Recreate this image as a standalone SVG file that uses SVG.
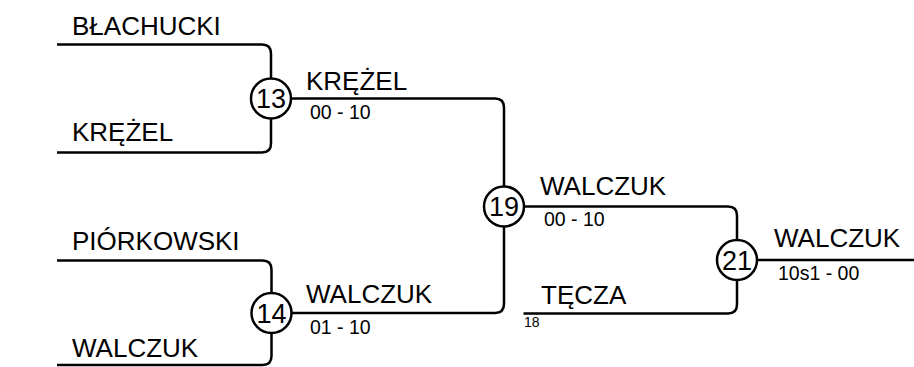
<svg xmlns="http://www.w3.org/2000/svg" width="914" height="367" viewBox="0 0 914 367">
<style>
.ln{fill:none;stroke:#000;stroke-width:2.5;stroke-linejoin:round}
.nm{font-family:"Liberation Sans",Arial,sans-serif;font-size:26px;fill:#000}
.sc{font-family:"Liberation Sans",Arial,sans-serif;font-size:19.5px;fill:#000}
.sm{font-family:"Liberation Sans",Arial,sans-serif;font-size:14px;fill:#000}
.c{fill:#fff;stroke:#000;stroke-width:2.5}
.num{font-family:"Liberation Sans",Arial,sans-serif;font-size:27px;fill:#000;text-anchor:middle}
</style>
<rect width="914" height="367" fill="#fff"/>
<g id="connectors">
<path class="ln" d="M57,44.5 H262 Q271,44.5 271,53.5 V78"/>
<path class="ln" d="M57,152.5 H262 Q271,152.5 271,143.5 V119"/>
<path class="ln" d="M57,260.5 H262.5 Q271.5,260.5 271.5,269.5 V293"/>
<path class="ln" d="M57,365 H262.5 Q271.5,365 271.5,356 V333"/>
<path class="ln" d="M291,98.5 H495 Q504,98.5 504,107.5 V186"/>
<path class="ln" d="M291.5,313 H495 Q504,313 504,304 V227"/>
<path class="ln" d="M524,206.5 H728 Q737,206.5 737,215.5 V240"/>
<path class="ln" d="M523.5,313.5 H728 Q737,313.5 737,304.5 V280"/>
<path class="ln" d="M757,260 H914"/>
</g>
<g id="entrants">
<text class="nm" x="72" y="35">BŁACHUCKI</text>
<text class="nm" x="72" y="141">KRĘŻEL</text>
<text class="nm" x="72" y="250">PIÓRKOWSKI</text>
<text class="nm" x="72" y="357">WALCZUK</text>
</g>
<g id="node13">
<circle class="c" cx="271" cy="98.5" r="20"/>
<text class="num" x="271" y="108">13</text>
<text class="nm" x="306" y="89.5">KRĘŻEL</text>
<text class="sc" x="310" y="119">00 - 10</text>
</g>
<g id="node14">
<circle class="c" cx="271.5" cy="313" r="20"/>
<text class="num" x="271.5" y="322.5">14</text>
<text class="nm" x="306" y="302.5">WALCZUK</text>
<text class="sc" x="310" y="334">01 - 10</text>
</g>
<g id="node19">
<circle class="c" cx="504" cy="206.5" r="20"/>
<text class="num" x="504" y="216">19</text>
<text class="nm" x="540" y="195">WALCZUK</text>
<text class="sc" x="544" y="226">00 - 10</text>
</g>
<g id="entrant-tecza">
<text class="nm" x="541" y="304">TĘCZA</text>
<text class="sm" x="524" y="327">18</text>
</g>
<g id="node21">
<circle class="c" cx="737" cy="260" r="20"/>
<text class="num" x="737" y="269.5">21</text>
<text class="nm" x="774" y="247">WALCZUK</text>
<text class="sc" x="778" y="280">10s1 - 00</text>
</g>
</svg>
